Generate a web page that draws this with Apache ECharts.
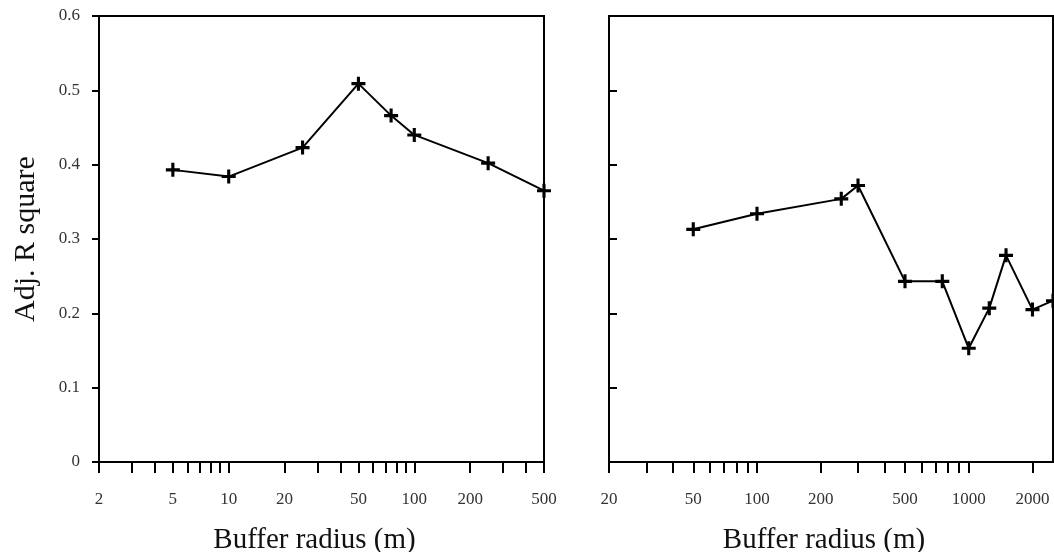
<!DOCTYPE html>
<html>
<head>
<meta charset="utf-8">
<script src="https://cdn.jsdelivr.net/npm/echarts@6/dist/echarts.min.js"></script>
<style>
html, body { margin: 0; padding: 0; background: #fff; }
#chart { width: 1054px; height: 552px; }
</style>
</head>
<body>
<div id="chart"></div>
<script>
// left panel
var radiusA = [5, 10, 25, 50, 75, 100, 250, 500];
var r2A = [0.393, 0.384, 0.423, 0.509, 0.466, 0.440, 0.402, 0.365];
var ticksA = [2, 3, 4, 5, 6, 7, 8, 9, 10, 20, 30, 40, 50, 60, 70, 80, 90, 100, 200, 300, 400, 500];
var labelsA = [2, 5, 10, 20, 50, 100, 200, 500];

// right panel
var radiusB = [50, 100, 250, 300, 500, 750, 1000, 1250, 1500, 2000, 2500];
var r2B = [0.313, 0.334, 0.354, 0.372, 0.243, 0.243, 0.153, 0.207, 0.278, 0.205, 0.217];
var ticksB = [20, 30, 40, 50, 60, 70, 80, 90, 100, 200, 300, 400, 500, 600, 700, 800, 900, 1000, 2000];
var labelsB = [20, 50, 100, 200, 500, 1000, 2000];

var plus = 'path://M7,0H11V7H18V11H11V18H7V11H0V7H7Z';
var font = 'Liberation Serif';

function xAxis(idx, min, max, ticks, labels) {
    return {
        type : 'log',
        logBase : 10,
        gridIndex : idx,
        min : min,
        max : max,
        name : 'Buffer radius (m)',
        nameLocation : 'middle',
        nameGap : 64,
        nameTextStyle : {fontFamily: font, fontSize: 29, color: '#111', padding: [0, 14, 0, 0]},
        axisLine : {lineStyle: {color: '#000', width: 2}},
        axisTick : {show: true, customValues: ticks, length: 11, lineStyle: {color: '#000', width: 2}},
        axisLabel : {
            customValues: labels,
            margin: 29,
            fontFamily: font,
            fontSize: 17,
            color: '#333',
            formatter: function (v) { return String(v); }
        },
        splitLine : {show: false},
        minorTick : {show: false}
    };
}

var chart = echarts.init(document.getElementById('chart'));
var option = {
    animation : false,
    grid : [
        {left: 99, right: 510, top: 16, bottom: 90, outerBoundsMode: 'none', show: true, borderColor: '#000', borderWidth: 2},
        {left: 609, right: 1, top: 16, bottom: 90, outerBoundsMode: 'none', show: true, borderColor: '#000', borderWidth: 2}
    ],
    xAxis : [
        xAxis(0, 2, 500, ticksA, labelsA),
        xAxis(1, 20, 2500, ticksB, labelsB)
    ],
    yAxis : [
        {
            type : 'value',
            gridIndex : 0,
            min : 0,
            max : 0.6,
            interval : 0.1,
            name : 'Adj. R square',
            nameLocation : 'middle',
            nameGap : 58,
            nameTextStyle : {fontFamily: font, fontSize: 30, color: '#111'},
            axisLine : {show: true, lineStyle: {color: '#000', width: 2}},
            axisTick : {show: true, length: 7, lineStyle: {color: '#000', width: 2}},
            axisLabel : {margin: 19, fontFamily: font, fontSize: 17, color: '#333'},
            splitLine : {show: false}
        },
        {
            type : 'value',
            gridIndex : 1,
            min : 0,
            max : 0.6,
            interval : 0.1,
            axisLine : {show: true, lineStyle: {color: '#000', width: 2}},
            axisTick : {show: true, inside: true, length: 8, lineStyle: {color: '#000', width: 2}},
            axisLabel : {show: false},
            splitLine : {show: false}
        }
    ],
    series : [
        {
            type : 'line',
            xAxisIndex : 0,
            yAxisIndex : 0,
            data : radiusA.map(function (r, i) { return [r, r2A[i]]; }),
            symbol : plus,
            symbolSize : 14,
            itemStyle : {color: '#000'},
            lineStyle : {color: '#000', width: 2}
        },
        {
            type : 'line',
            xAxisIndex : 1,
            yAxisIndex : 1,
            data : radiusB.map(function (r, i) { return [r, r2B[i]]; }),
            symbol : plus,
            symbolSize : 14,
            itemStyle : {color: '#000'},
            lineStyle : {color: '#000', width: 2}
        }
    ]
};
chart.setOption(option);
</script>
</body>
</html>
